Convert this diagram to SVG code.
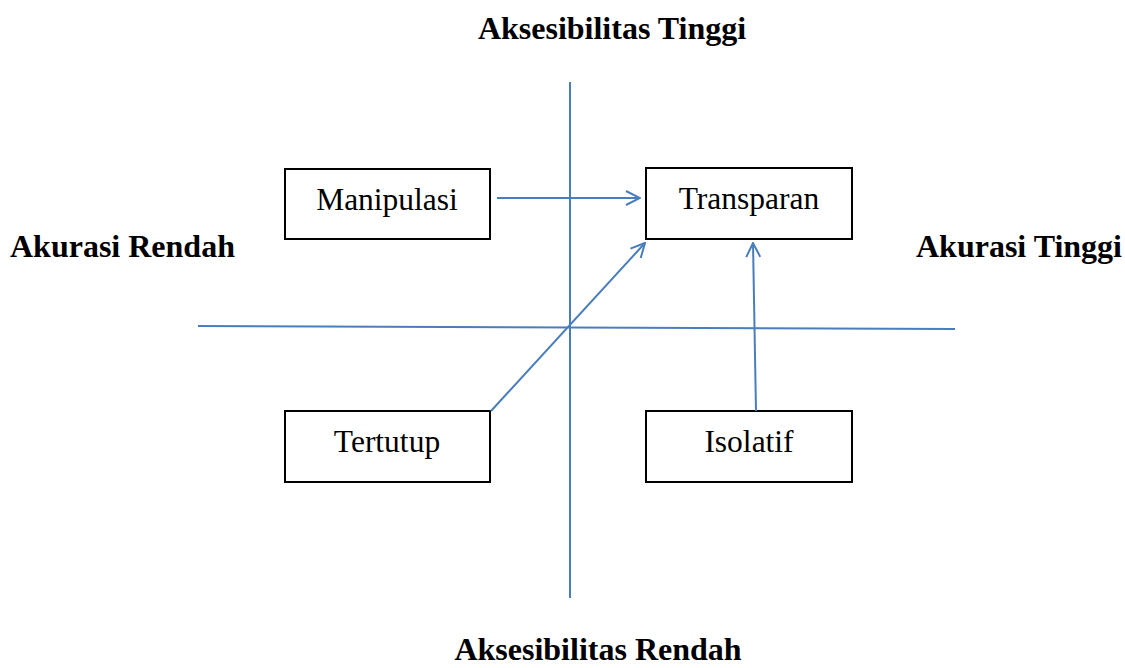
<svg xmlns="http://www.w3.org/2000/svg" width="1125" height="668" viewBox="0 0 1125 668">
<style>
.box{fill:#fff;stroke:#000;stroke-width:2}
.ax{stroke:#4a7ebb;stroke-width:2;fill:none}
.lbl{font-family:"Liberation Serif","Times New Roman",serif;font-size:31.5px;text-anchor:middle;fill:#000}
.hd{font-family:"Liberation Serif","Times New Roman",serif;font-size:32px;font-weight:bold;fill:#000}
</style>
<defs>
<marker id="ah" viewBox="0 0 16 16" refX="15" refY="8" markerWidth="16" markerHeight="16" markerUnits="userSpaceOnUse" orient="auto">
<path d="M1,1 L15,8 L1,15" fill="none" stroke="#4a7ebb" stroke-width="2"/>
</marker>
</defs>
<g id="axes">
<line class="ax" x1="570" y1="82" x2="570" y2="598"/>
<line class="ax" x1="198" y1="326" x2="955" y2="329"/>
</g>
<g id="labels">
<text class="hd" x="612" y="39" text-anchor="middle">Aksesibilitas Tinggi</text>
<text class="hd" x="598" y="660" text-anchor="middle">Aksesibilitas Rendah</text>
<text class="hd" x="10" y="257">Akurasi Rendah</text>
<text class="hd" x="1122" y="257" text-anchor="end">Akurasi Tinggi</text>
</g>
<g id="manipulasi">
<rect class="box" x="285" y="169" width="205" height="70"/>
<text class="lbl" x="387" y="210">Manipulasi</text>
</g>
<g id="transparan">
<rect class="box" x="646" y="168" width="206" height="71"/>
<text class="lbl" x="749" y="209">Transparan</text>
</g>
<g id="tertutup">
<rect class="box" x="285" y="411" width="205" height="71"/>
<text class="lbl" x="387" y="452">Tertutup</text>
</g>
<g id="isolatif">
<rect class="box" x="646" y="411" width="206" height="71"/>
<text class="lbl" x="749" y="452">Isolatif</text>
</g>
<g id="connectors">
<line class="ax" x1="497" y1="198" x2="640" y2="198" marker-end="url(#ah)"/>
<line class="ax" x1="491" y1="411" x2="645" y2="243" marker-end="url(#ah)"/>
<line class="ax" x1="756" y1="411" x2="753" y2="243" marker-end="url(#ah)"/>
</g>
</svg>
